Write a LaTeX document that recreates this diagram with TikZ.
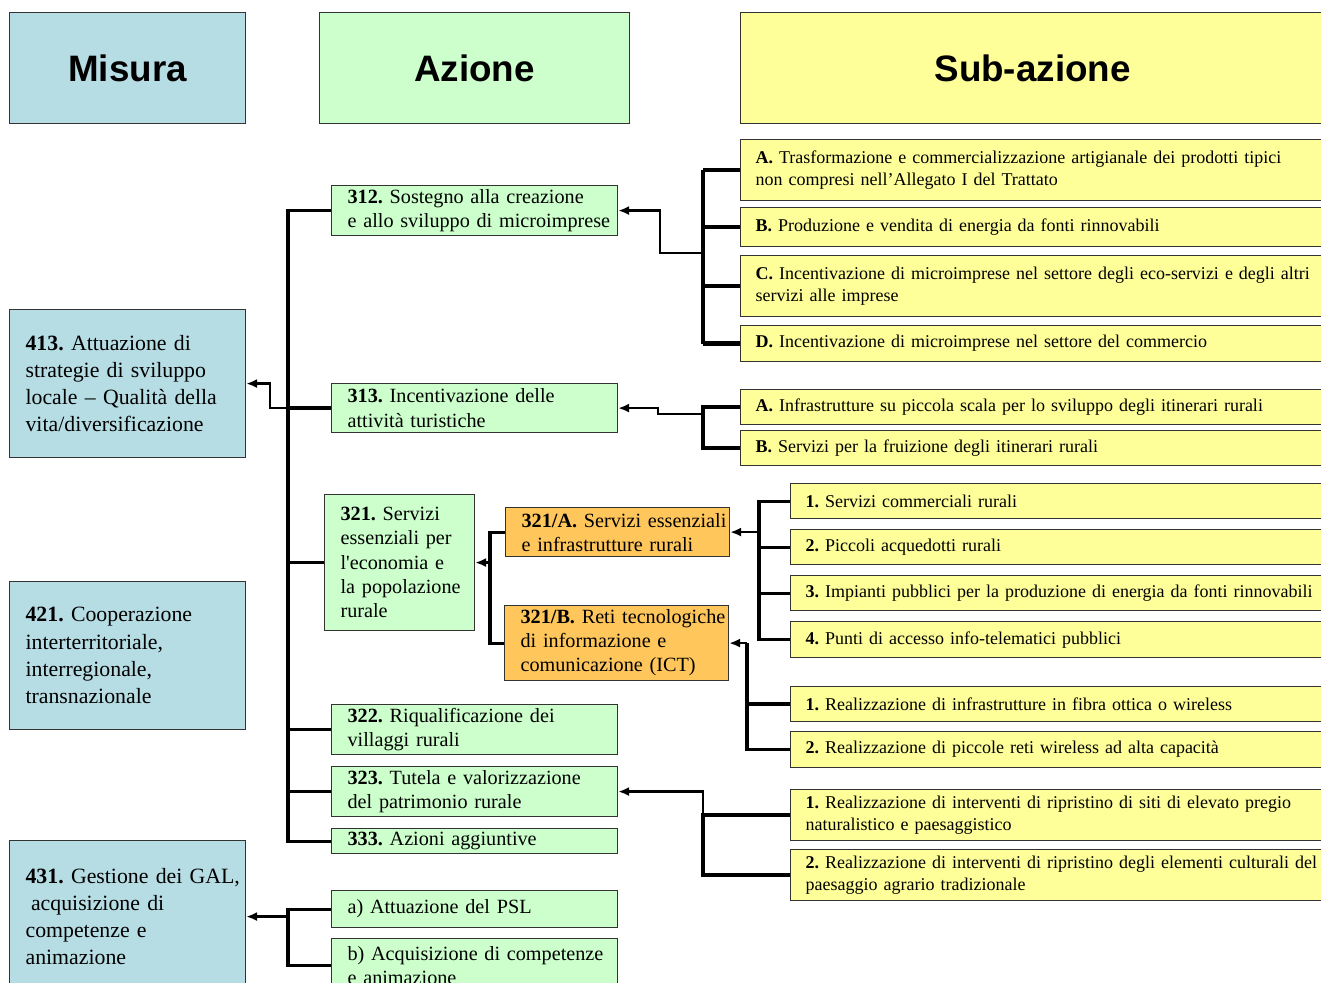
\documentclass[tikz,border=0pt]{standalone}
\usepackage{fontspec}
\setmainfont{Liberation Serif}
\newfontfamily\headfont{Liberation Sans}
\frenchspacing
\usetikzlibrary{arrows.meta}
\definecolor{misurablue}{RGB}{183,221,228}
\definecolor{azionegreen}{RGB}{204,255,204}
\definecolor{subyellow}{RGB}{255,255,153}
\definecolor{ramoorange}{RGB}{255,198,92}
\tikzset{
  >={Latex[length=5.5pt,width=4.6pt]},
  box/.style ={rectangle, draw=black!80, line width=.6pt, anchor=north west,
               inner xsep=0pt, inner ysep=0pt},
  header/.style ={box, align=center,
                  font=\headfont\bfseries\fontsize{18.4}{22}\selectfont},
  indent/.style ={align=left, execute at begin node={\leftskip=#1}},
  misura/.style ={box, indent=8pt, fill=misurablue, text width=118pt,
                  font=\fontsize{10.9}{13.6}\selectfont},
  azione/.style ={box, indent=8pt, fill=azionegreen, text width=143pt,
                  font=\fontsize{10.1}{12.2}\selectfont},
  ramo/.style ={box, indent=8pt, fill=ramoorange, text width=112pt,
                font=\fontsize{10.1}{12}\selectfont},
  subazione/.style ={box, indent=7.5pt, fill=subyellow, text width=310pt,
                     font=\fontsize{9}{11}\selectfont},
  voce/.style ={subazione, text width=285pt},
  link/.style ={line width=1.6pt},
  heavy link/.style ={line width=2.3pt},
  arrow link/.style ={line width=1.3pt, ->},
}
\begin{document}
\begin{tikzpicture}[x=0.5pt,y=-0.5pt]
  \useasboundingbox (0,0) rectangle (1321,983);
  \clip (0,0) rectangle (1321,983);
  % intestazioni
  \node[header, fill=misurablue, text width=118pt, minimum height=55.5pt] (hmisura) at (9,12) {Misura};
  \node[header, fill=azionegreen, text width=155pt, minimum height=55.5pt] (hazione) at (319,12) {Azione};
  \node[header, fill=subyellow, text width=292pt, minimum height=55.5pt] (hsub) at (740,12) {Sub-azione};
  % misure
  \node[misura, minimum height=74pt] (m413) at (9,309) {\textbf{413.} Attuazione di\\ strategie di sviluppo\\ locale -- Qualità della\\ vita/diversificazione};
  \node[misura, minimum height=74pt] (m421) at (9,581) {\textbf{421.} Cooperazione\\ interterritoriale,\\ interregionale,\\ transnazionale};
  \node[misura, minimum height=76pt] (m431) at (9,840) {\textbf{431.} Gestione dei GAL,\\ \hspace*{.25em}acquisizione di\\ competenze e\\ animazione};
  % azioni
  \node[azione, minimum height=25pt] (a312) at (331,185) {\textbf{312.} Sostegno alla creazione\\ e allo sviluppo di microimprese};
  \node[azione, minimum height=24.5pt] (a313) at (331,383) {\textbf{313.} Incentivazione delle\\ attività turistiche};
  \node[azione, text width=75pt, minimum height=68pt] (a321) at (324,494) {\textbf{321.} Servizi\\ essenziali per\\ l\textquotesingle economia e\\ la popolazione\\ rurale};
  \node[azione, minimum height=25pt] (a322) at (331,704) {\textbf{322.} Riqualificazione dei\\ villaggi rurali};
  \node[azione, minimum height=25pt] (a323) at (331,766) {\textbf{323.} Tutela e valorizzazione\\ del patrimonio rurale};
  \node[azione, minimum height=12.5pt] (a333) at (331,828) {\textbf{333.} Azioni aggiuntive};
  \node[azione, minimum height=18.5pt] (aA) at (331,890) {a) Attuazione del PSL};
  \node[azione, minimum height=27pt] (aB) at (331,938) {b) Acquisizione di competenze\\ e animazione};
  \node[ramo, minimum height=24.5pt] (s321A) at (505,507) {\textbf{321/A.} Servizi essenziali\\ e infrastrutture rurali};
  \node[ramo, minimum height=37.5pt] (s321B) at (504,605) {\textbf{321/B.} Reti tecnologiche\\ di informazione e\\ comunicazione (ICT)};
  % sub-azioni
  \node[subazione, minimum height=30.5pt] (y312A) at (740,139) {\textbf{A.} Trasformazione e commercializzazione artigianale dei prodotti tipici\\ non compresi nell’Allegato I del Trattato};
  \node[subazione, minimum height=19.5pt] (y312B) at (740,207) {\textbf{B.} Produzione e vendita di energia da fonti rinnovabili};
  \node[subazione, minimum height=30.5pt] (y312C) at (740,255) {\textbf{C.} Incentivazione di microimprese nel settore degli eco-servizi e degli altri\\ servizi alle imprese};
  \node[subazione, minimum height=18pt] (y312D) at (740,325) {\textbf{D.} Incentivazione di microimprese nel settore del commercio};
  \node[subazione, minimum height=17.5pt] (y313A) at (740,389) {\textbf{A.} Infrastrutture su piccola scala per lo sviluppo degli itinerari rurali};
  \node[subazione, minimum height=17.5pt] (y313B) at (740,430) {\textbf{B.} Servizi per la fruizione degli itinerari rurali};
  \node[voce, minimum height=17.5pt] (y321A1) at (790,483) {\textbf{1.} Servizi commerciali rurali};
  \node[voce, minimum height=17.5pt] (y321A2) at (790,529) {\textbf{2.} Piccoli acquedotti rurali};
  \node[voce, minimum height=17.5pt] (y321A3) at (790,575) {\textbf{3.} Impianti pubblici per la produzione di energia da fonti rinnovabili};
  \node[voce, minimum height=18pt] (y321A4) at (790,621) {\textbf{4.} Punti di accesso info-telematici pubblici};
  \node[voce, minimum height=17.5pt] (y321B1) at (790,686) {\textbf{1.} Realizzazione di infrastrutture in fibra ottica o wireless};
  \node[voce, minimum height=18pt] (y321B2) at (790,731) {\textbf{2.} Realizzazione di piccole reti wireless ad alta capacità};
  \node[voce, minimum height=25.5pt] (y323A) at (790,789) {\textbf{1.} Realizzazione di interventi di ripristino di siti di elevato pregio\\ naturalistico e paesaggistico};
  \node[voce, minimum height=25.5pt] (y323B) at (790,849) {\textbf{2.} Realizzazione di interventi di ripristino degli elementi culturali del\\ paesaggio agrario tradizionale};
  % collegamenti
  \coordinate (bus) at (288,0);
  \coordinate (bar) at (703,0);
  \coordinate (bar321) at (490,0);
  \coordinate (bar321A) at (759,0);
  \coordinate (bar321B) at (747,0);
  \coordinate (j312) at (703,253);
  \coordinate (j313) at (703,414);
  \draw[link] (a312.west) -- (a312.west -| bus) -- (a333.west -| bus) -- (a333.west);
  \foreach \n in {a313,a321,a322,a323}
    \draw[link] (\n.west -| bus) -- (\n.west);
  \draw[arrow link] (a313.west -| bus) -- ++(-18,0) |- (m413.east);
  \draw[link] (aA.west) -- (aA.west -| bus) -- (aB.west -| bus) -- (aB.west);
  \draw[arrow link] (m431.east -| bus) -- (m431.east);
  \draw[link] (y312A.west -| bar) -- (y312D.west -| bar);
  \foreach \n in {y312A,y312B,y312C,y312D}
    \draw[heavy link] (\n.west -| bar) -- (\n.west);
  \draw[arrow link] (j312) -- ++(-43,0) |- (a312.east);
  \draw[link] (y313A.west) -- (y313A.west -| bar) -- (y313B.west -| bar) -- (y313B.west);
  \draw[arrow link] (j313) -- ++(-45,0) |- (a313.east);
  \draw[link] (y321A1.west) -- (y321A1.west -| bar321A) -- (y321A4.west -| bar321A) -- (y321A4.west);
  \foreach \n in {y321A2,y321A3}
    \draw[link] (\n.west -| bar321A) -- (\n.west);
  \draw[arrow link] (s321A.east -| bar321A) -- (s321A.east);
  \draw[link] (s321B.east -| bar321B) -- (y321B2.west -| bar321B) -- (y321B2.west);
  \draw[heavy link] (y321B1.west -| bar321B) -- (y321B1.west);
  \draw[arrow link] (s321B.east -| bar321B) -- (s321B.east);
  \draw[link] (s321A.west) -- (s321A.west -| bar321) -- (s321B.west -| bar321) -- (s321B.west);
  \draw[arrow link] (a321.east -| bar321) -- (a321.east);
  \draw[heavy link] (y323A.west) -- (y323A.west -| bar) -- (y323B.west -| bar) -- (y323B.west);
  \draw[arrow link] (y323A.west -| bar) |- (a323.east);
\end{tikzpicture}
\end{document}
